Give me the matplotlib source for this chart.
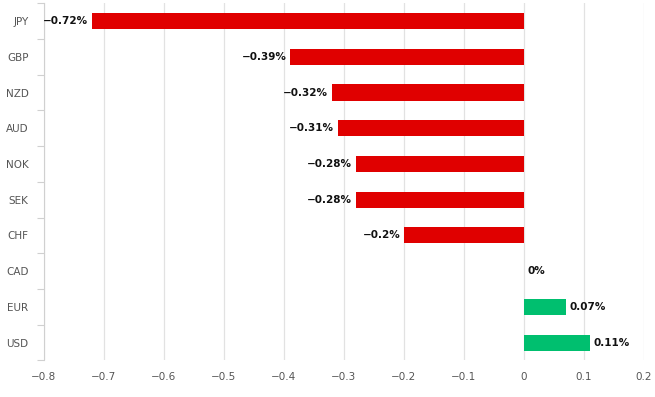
import matplotlib.pyplot as plt

# valutaer og endring i prosent
valutaer = ['JPY', 'GBP', 'NZD', 'AUD', 'NOK', 'SEK', 'CHF', 'CAD', 'EUR', 'USD']
endring = [-0.72, -0.39, -0.32, -0.31, -0.28, -0.28, -0.2, 0, 0.07, 0.11]
etiketter = ['\u22120.72%', '\u22120.39%', '\u22120.32%', '\u22120.31%', '\u22120.28%',
             '\u22120.28%', '\u22120.2%', '0%', '0.07%', '0.11%']
xticks = [-0.8, -0.7, -0.6, -0.5, -0.4, -0.3, -0.2, -0.1, 0, 0.1, 0.2]

rod = '#e00000'
gronn = '#00bf6f'

fig = plt.figure(figsize=(6.55, 3.97), dpi=100)
ax = fig.add_axes([0.067, 0.092, 0.916, 0.9])

ys = list(range(len(valutaer)))
farger = [rod if v < 0 else gronn for v in endring]
ax.barh(ys, endring, height=0.45, color=farger, zorder=2)

# tekst ved enden av hver stolpe
for y, v, t in zip(ys, endring, etiketter):
    if v < 0:
        ax.text(v - 0.006, y, t, ha='right', va='center', fontsize=7.5,
                fontweight='bold', color='#111111')
    else:
        ax.text(v + 0.006, y, t, ha='left', va='center', fontsize=7.5,
                fontweight='bold', color='#111111')

ax.set_xlim(-0.8, 0.2)
ax.set_ylim(len(valutaer) - 0.5, -0.5)
ax.set_xticks(xticks)
ax.set_xticklabels(['\u2212' + str(abs(x)) if x < 0 else str(x) for x in xticks])
ax.set_yticks([y + 0.5 for y in ys[:-1]] + [-0.5, len(valutaer) - 0.5], minor=False)
ax.set_yticklabels([])
ax.set_yticks(ys, minor=True)
ax.set_yticklabels(valutaer, minor=True)

ax.grid(axis='x', color='#e2e2e2', linewidth=0.9, zorder=0)
for s in ['top', 'right', 'bottom']:
    ax.spines[s].set_visible(False)
ax.spines['left'].set_color('#d0d0d0')

ax.tick_params(axis='x', length=0, labelsize=7.5, labelcolor='#555555', pad=8)
ax.tick_params(axis='y', which='major', length=5, color='#d0d0d0')
ax.tick_params(axis='y', which='minor', length=0, labelsize=7.5, labelcolor='#555555', pad=11)

plt.savefig('out.png', dpi=100)
